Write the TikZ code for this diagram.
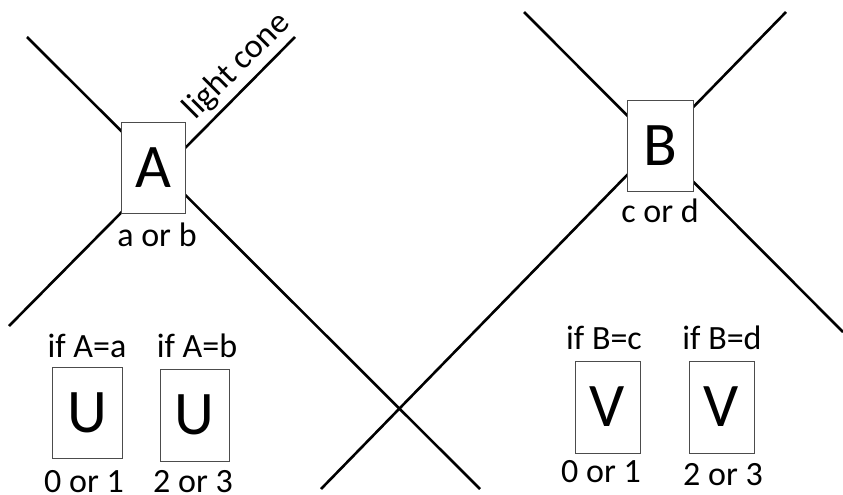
\documentclass[tikz,border=0pt]{standalone}
\usepackage{fontspec}
\setmainfont{Carlito}
\begin{document}
\begin{tikzpicture}[x=1pt,y=-1pt,
  cone/.style={line width=2.6pt,black},
  bigbox/.style={draw=black!70,line width=1pt,fill=white,inner sep=0pt,
    font=\fontsize{62}{70}\selectfont},
  lbl/.style={inner sep=0pt,anchor=base,font=\fontsize{34}{40}\selectfont}]
\useasboundingbox[fill=white] (0,0) rectangle (843,495);
% light cone lines
\coordinate (a1s) at (27,37);
\coordinate (a1e) at (480,489);
\coordinate (a2s) at (295,37);
\coordinate (a2e) at (9,326);
\coordinate (b1s) at (524,12);
\coordinate (b1e) at (843,332);
\coordinate (b2s) at (786,12);
\coordinate (b2e) at (321,489);
\draw[cone] (a1s) -- (a1e);
\draw[cone] (a2s) -- (a2e);
\draw[cone] (b1s) -- (b1e);
\draw[cone] (b2s) -- (b2e);
% boxes
\node[bigbox,minimum width=64pt,minimum height=91pt] (A) at (153,167.5) {A};
\node[bigbox,minimum width=66pt,minimum height=91pt] (B) at (660,145.5) {B};
\node[bigbox,minimum width=70pt,minimum height=91pt] (U1) at (87,412.5) {U};
\node[bigbox,minimum width=69pt,minimum height=92pt] (U2) at (194.5,415) {U};
\node[bigbox,minimum width=65pt,minimum height=92pt] (V1) at (607.5,407) {V};
\node[bigbox,minimum width=65pt,minimum height=92pt] (V2) at (721.5,407) {V};
% labels
\node[lbl] (lab) at (157,246) {a or b};
\node[lbl] (lcd) at (660,222) {c or d};
\node[lbl] (lua) at (87,357) {if A=a};
\node[lbl] (lub) at (197,357) {if A=b};
\node[lbl] (lu1) at (84,492) {0 or 1};
\node[lbl] (lu2) at (193,492) {2 or 3};
\node[lbl] (lvc) at (604,349) {if B=c};
\node[lbl] (lvd) at (722,349) {if B=d};
\node[lbl] (lv1) at (601,482) {0 or 1};
\node[lbl] (lv2) at (723,485) {2 or 3};
\node[inner sep=0pt,rotate=45,font=\fontsize{34}{40}\selectfont] (lc) at (237,66) {light cone};
\end{tikzpicture}
\end{document}
